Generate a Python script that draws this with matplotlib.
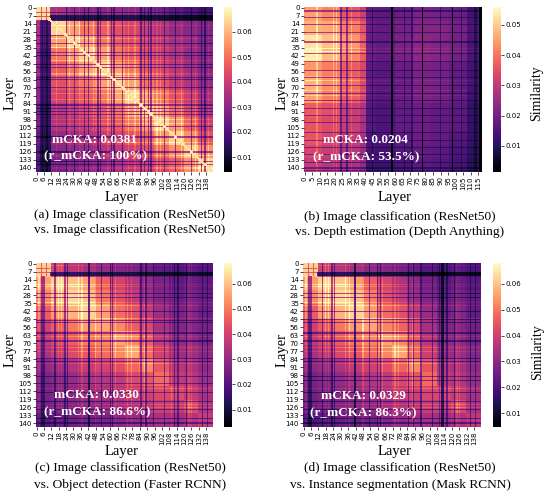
import numpy as np
import matplotlib
matplotlib.use("Agg")
import matplotlib.pyplot as plt
import seaborn as sns

# similarity per block of layers (rows = ResNet50 layers)
n_rows = 144
row_blocks = [12] * 12
col_blocks_std = [12] * 12
col_blocks_depth = [12, 12, 12, 5, 7, 12, 12, 12, 12, 12, 10]  # 118 layers

sim_a = [
    [0.064, 0.035, 0.032, 0.030, 0.030, 0.032, 0.030, 0.028, 0.025, 0.022, 0.020, 0.018],
    [0.034, 0.064, 0.057, 0.051, 0.047, 0.045, 0.042, 0.040, 0.036, 0.032, 0.030, 0.028],
    [0.033, 0.057, 0.064, 0.057, 0.051, 0.047, 0.044, 0.042, 0.038, 0.034, 0.032, 0.028],
    [0.031, 0.051, 0.057, 0.064, 0.057, 0.051, 0.047, 0.044, 0.040, 0.036, 0.032, 0.030],
    [0.031, 0.047, 0.051, 0.057, 0.064, 0.057, 0.051, 0.047, 0.042, 0.038, 0.034, 0.030],
    [0.030, 0.045, 0.047, 0.051, 0.057, 0.064, 0.057, 0.051, 0.046, 0.040, 0.036, 0.032],
    [0.029, 0.042, 0.044, 0.047, 0.051, 0.057, 0.064, 0.057, 0.051, 0.045, 0.040, 0.034],
    [0.027, 0.038, 0.040, 0.044, 0.047, 0.051, 0.057, 0.064, 0.057, 0.050, 0.044, 0.036],
    [0.026, 0.036, 0.038, 0.040, 0.044, 0.047, 0.051, 0.057, 0.064, 0.056, 0.048, 0.040],
    [0.024, 0.032, 0.034, 0.036, 0.040, 0.043, 0.046, 0.050, 0.056, 0.064, 0.055, 0.045],
    [0.022, 0.030, 0.031, 0.033, 0.036, 0.038, 0.041, 0.045, 0.049, 0.055, 0.064, 0.055],
    [0.020, 0.027, 0.028, 0.030, 0.032, 0.035, 0.037, 0.040, 0.043, 0.047, 0.055, 0.064],
]
dark_rows_a = [4, 11, 24, 31, 39, 42, 50, 52, 61, 63, 70, 85, 88, 91, 93, 104, 113, 126, 134, 137]
dark_cols_a = [3, 4, 6, 7, 10, 11, 24, 31, 39, 42, 50, 52, 61, 63, 70, 85, 88, 91, 93, 104, 113, 126, 134, 137]
black_rows_a = [7, 8, 9, 10]
black_cols_a = [5, 8, 9]
bright_a = [16, 27, 35, 46, 58, 75, 80, 98, 101, 118, 129, 140]
diag_a = 0.068
near_diag_a = 0.065

sim_b = [
    [0.045, 0.042, 0.036, 0.032, 0.018, 0.017, 0.019, 0.021, 0.020, 0.019, 0.014],
    [0.047, 0.046, 0.041, 0.036, 0.019, 0.018, 0.020, 0.022, 0.022, 0.020, 0.015],
    [0.053, 0.049, 0.044, 0.038, 0.019, 0.018, 0.021, 0.023, 0.022, 0.020, 0.015],
    [0.054, 0.048, 0.042, 0.037, 0.019, 0.018, 0.021, 0.023, 0.022, 0.020, 0.015],
    [0.044, 0.041, 0.037, 0.033, 0.017, 0.016, 0.019, 0.021, 0.020, 0.018, 0.014],
    [0.047, 0.043, 0.039, 0.034, 0.018, 0.017, 0.019, 0.021, 0.020, 0.018, 0.014],
    [0.045, 0.041, 0.037, 0.033, 0.017, 0.016, 0.019, 0.021, 0.020, 0.018, 0.013],
    [0.037, 0.035, 0.031, 0.028, 0.016, 0.015, 0.018, 0.019, 0.018, 0.017, 0.012],
    [0.036, 0.034, 0.031, 0.027, 0.016, 0.015, 0.018, 0.019, 0.018, 0.017, 0.012],
    [0.036, 0.033, 0.031, 0.027, 0.015, 0.015, 0.017, 0.019, 0.018, 0.016, 0.012],
    [0.033, 0.031, 0.029, 0.025, 0.014, 0.014, 0.016, 0.018, 0.017, 0.015, 0.011],
    [0.031, 0.029, 0.027, 0.024, 0.013, 0.013, 0.015, 0.017, 0.016, 0.014, 0.010],
]
dark_rows_b = [3, 9, 15, 22, 30, 40, 47, 55, 61, 68, 75, 81, 88, 94, 100, 109, 116, 122, 128, 135, 140, 142]
dark_cols_b = [24, 28, 45, 66, 71, 90, 104, 113, 114]
bright_rows_b = [36, 38, 64, 72, 77]
bright_cols_b = [8, 19, 21, 31, 36]
black_cols_b = [58, 78, 98, 116, 117]

sim_c = [
    [0.060, 0.040, 0.036, 0.033, 0.030, 0.028, 0.026, 0.024, 0.022, 0.020, 0.022, 0.020],
    [0.055, 0.062, 0.060, 0.055, 0.046, 0.040, 0.035, 0.030, 0.026, 0.022, 0.024, 0.022],
    [0.052, 0.060, 0.063, 0.060, 0.050, 0.044, 0.038, 0.032, 0.028, 0.024, 0.026, 0.024],
    [0.046, 0.055, 0.058, 0.062, 0.055, 0.048, 0.044, 0.038, 0.032, 0.026, 0.028, 0.024],
    [0.040, 0.046, 0.050, 0.055, 0.056, 0.052, 0.046, 0.042, 0.034, 0.028, 0.028, 0.026],
    [0.038, 0.042, 0.046, 0.050, 0.052, 0.056, 0.052, 0.046, 0.037, 0.030, 0.030, 0.027],
    [0.034, 0.038, 0.042, 0.045, 0.048, 0.052, 0.056, 0.048, 0.040, 0.032, 0.032, 0.029],
    [0.030, 0.032, 0.035, 0.038, 0.040, 0.043, 0.047, 0.052, 0.045, 0.036, 0.034, 0.030],
    [0.027, 0.029, 0.031, 0.034, 0.036, 0.038, 0.042, 0.045, 0.048, 0.038, 0.036, 0.032],
    [0.026, 0.028, 0.029, 0.031, 0.033, 0.035, 0.038, 0.040, 0.042, 0.042, 0.038, 0.034],
    [0.025, 0.027, 0.028, 0.029, 0.031, 0.033, 0.035, 0.037, 0.039, 0.038, 0.042, 0.035],
    [0.021, 0.023, 0.025, 0.026, 0.027, 0.029, 0.031, 0.033, 0.034, 0.033, 0.035, 0.038],
]
dark_rows_c = [26, 30, 42, 50, 52, 61, 68, 83, 86, 99, 105, 113, 121, 128, 136, 140]
dark_cols_c = [4, 5, 6, 15, 23, 25, 53, 60, 62, 85, 89, 95, 104, 112, 115, 122, 135, 139]
black_rows_c = [8, 9, 10]
black_cols_c = [42, 43]
bright_c = [2, 18, 20, 34, 37, 48, 64, 74, 77, 88, 110, 124, 126]

sim_d = [
    [0.060, 0.040, 0.036, 0.033, 0.030, 0.028, 0.026, 0.024, 0.022, 0.020, 0.022, 0.020],
    [0.055, 0.062, 0.060, 0.055, 0.046, 0.041, 0.035, 0.030, 0.026, 0.022, 0.024, 0.022],
    [0.052, 0.060, 0.063, 0.060, 0.051, 0.044, 0.038, 0.032, 0.028, 0.024, 0.026, 0.024],
    [0.046, 0.055, 0.058, 0.062, 0.055, 0.048, 0.044, 0.038, 0.032, 0.026, 0.028, 0.024],
    [0.040, 0.046, 0.050, 0.055, 0.056, 0.052, 0.047, 0.042, 0.034, 0.028, 0.028, 0.026],
    [0.038, 0.042, 0.046, 0.050, 0.052, 0.056, 0.052, 0.046, 0.037, 0.030, 0.030, 0.027],
    [0.034, 0.038, 0.042, 0.045, 0.048, 0.052, 0.056, 0.048, 0.040, 0.032, 0.032, 0.029],
    [0.030, 0.032, 0.035, 0.038, 0.040, 0.043, 0.047, 0.052, 0.045, 0.036, 0.034, 0.030],
    [0.027, 0.029, 0.031, 0.034, 0.036, 0.038, 0.042, 0.045, 0.048, 0.038, 0.036, 0.032],
    [0.026, 0.028, 0.029, 0.031, 0.033, 0.035, 0.038, 0.040, 0.042, 0.042, 0.038, 0.034],
    [0.025, 0.027, 0.028, 0.029, 0.031, 0.033, 0.035, 0.037, 0.039, 0.038, 0.042, 0.035],
    [0.021, 0.023, 0.025, 0.026, 0.027, 0.029, 0.031, 0.033, 0.034, 0.033, 0.035, 0.038],
]
dark_rows_d = [26, 30, 42, 49, 52, 61, 68, 83, 86, 99, 103, 113, 121, 128, 136, 140]
dark_cols_d = [4, 5, 6, 15, 23, 25, 53, 60, 62, 85, 89, 95, 104, 110, 116, 122, 135, 139]
black_rows_d = [8, 9, 10]
black_cols_d = [41, 42, 112, 113]
bright_d = [2, 18, 20, 34, 37, 48, 64, 74, 77, 88, 110, 124, 126]

# small bright checker in the top-left corner (layers 0-10) of a, c, d
corner_size = 11
corner_value = [0.066, None, 0.062, 0.062]
corner_lines = [4, 8]
corner_line_value = 0.045

vrange = [(0.004, 0.070), (0.0014, 0.0559), (0.0031, 0.0682), (0.0047, 0.068)]
cbar_ticks = [[0.01, 0.02, 0.03, 0.04, 0.05, 0.06],
              [0.01, 0.02, 0.03, 0.04, 0.05],
              [0.01, 0.02, 0.03, 0.04, 0.05, 0.06],
              [0.01, 0.02, 0.03, 0.04, 0.05, 0.06]]
mcka = ["mCKA: 0.0381", "mCKA: 0.0204", "mCKA: 0.0330", "mCKA: 0.0329"]
rmcka = ["(r_mCKA: 100%)", "(r_mCKA: 53.5%)", "(r_mCKA: 86.6%)", "(r_mCKA: 86.3%)"]
captions = [
    ("(a) Image classification (ResNet50)", "vs. Image classification (ResNet50)"),
    ("(b) Image classification (ResNet50)", "vs. Depth estimation (Depth Anything)"),
    ("(c) Image classification (ResNet50)", "vs. Object detection (Faster RCNN)"),
    ("(d) Image classification (ResNet50)", "vs. Instance segmentation (Mask RCNN)"),
]
xtick_step = [6, 5, 6, 6]


def build(blocks, col_counts, dark_r, dark_c, black_r, black_c, bright_r, bright_c):
    m = np.repeat(np.repeat(np.array(blocks), row_blocks, axis=0), col_counts, axis=1)
    m[dark_r, :] *= 0.6
    m[:, dark_c] *= 0.6
    m[black_r, :] *= 0.4
    m[:, black_c] *= 0.4
    m[bright_r, :] *= 1.15
    m[:, bright_c] *= 1.15
    return m


mat_a = build(sim_a, col_blocks_std, dark_rows_a, dark_cols_a, black_rows_a, black_cols_a,
              bright_a, bright_a)
idx = np.arange(n_rows)
mat_a[idx[:-1], idx[1:]] = near_diag_a
mat_a[idx[1:], idx[:-1]] = near_diag_a
mat_a[idx, idx] = diag_a
mat_b = build(sim_b, col_blocks_depth, dark_rows_b, dark_cols_b, [], [],
              bright_rows_b, bright_cols_b)
mat_b[:, black_cols_b] = 0.0016
mat_c = build(sim_c, col_blocks_std, dark_rows_c, dark_cols_c, black_rows_c, black_cols_c,
              bright_c, bright_c)
mat_d = build(sim_d, col_blocks_std, dark_rows_d, dark_cols_d, black_rows_d, black_cols_d,
              bright_d, bright_d)
mats = [mat_a, mat_b, mat_c, mat_d]

for i, m in enumerate(mats):
    if corner_value[i] is None:
        continue
    m[:corner_size, :corner_size] = corner_value[i]
    m[corner_lines, :corner_size] = corner_line_value
    m[:corner_size, corner_lines] = corner_line_value

serif = "Liberation Serif"
fig = plt.figure(figsize=(5.5, 4.97), dpi=100)
W, H = 550.0, 497.0

# pixel boxes: heatmap (x0, x1), colorbar (x0, x1), (y0, y1)
hm_x = [(36, 213), (304, 482), (36, 213), (303, 481)]
cb_x = [(224, 232), (493, 501), (224, 232), (493, 501)]
row_y = [(7, 172), (7, 172), (263, 427), (263, 427)]
ylab_pos = [(10, 93), (282, 93), (10, 350), (282, 350)]
xlab_pos = [(122, 197), (395, 197), (122, 452), (395, 452)]
cap_pos = [(130, 215, 230), (400, 217, 232), (130, 468, 485), (400, 468, 485)]
txt_pos = [(48, 116, 130), (41, 116, 131), (49.5, 116, 131), (49, 117, 132)]
sim_label = [(537, 93), None, None, (538, 352)]

for i in range(4):
    y0, y1 = row_y[i]
    ax = fig.add_axes([hm_x[i][0] / W, 1 - y1 / H, (hm_x[i][1] - hm_x[i][0]) / W, (y1 - y0) / H])
    cax = fig.add_axes([cb_x[i][0] / W, 1 - y1 / H, (cb_x[i][1] - cb_x[i][0]) / W, (y1 - y0) / H])
    m = mats[i]
    sns.heatmap(m, ax=ax, cbar_ax=cax, cmap="magma", vmin=vrange[i][0], vmax=vrange[i][1],
                xticklabels=False, yticklabels=False)
    nr, nc = m.shape
    ax.set_yticks(np.arange(0, nr, 7) + 0.5)
    ax.set_yticklabels([str(v) for v in range(0, nr, 7)], rotation=0, fontsize=5)
    ax.set_xticks(np.arange(0, nc, xtick_step[i]) + 0.5)
    ax.set_xticklabels([str(v) for v in range(0, nc, xtick_step[i])], rotation=90, fontsize=5)
    ax.tick_params(length=2, width=0.5, pad=1)
    cax.set_yticks(cbar_ticks[i])
    cax.set_yticklabels(["%.2f" % t for t in cbar_ticks[i]], fontsize=5)
    cax.tick_params(length=2.5, width=0.5, pad=1)

    tx, ty1, ty2 = txt_pos[i]
    ax.text(tx, ty1, mcka[i], color="white", fontsize=9.5, fontweight="bold",
            family=serif, ha="center", va="center")
    ax.text(tx, ty2, rmcka[i], color="white", fontsize=9.5, fontweight="bold",
            family=serif, ha="center", va="center")

    fig.text(ylab_pos[i][0] / W, 1 - ylab_pos[i][1] / H, "Layer", rotation=90,
             family=serif, fontsize=10.5, ha="center", va="center")
    fig.text(xlab_pos[i][0] / W, 1 - xlab_pos[i][1] / H, "Layer",
             family=serif, fontsize=10.5, ha="center", va="center")
    cx, c1, c2 = cap_pos[i]
    fig.text(cx / W, 1 - c1 / H, captions[i][0], family=serif, fontsize=9.6, ha="center", va="center")
    fig.text(cx / W, 1 - c2 / H, captions[i][1], family=serif, fontsize=9.6, ha="center", va="center")
    if sim_label[i]:
        fig.text(sim_label[i][0] / W, 1 - sim_label[i][1] / H, "Similarity", rotation=90,
                 family=serif, fontsize=10, ha="center", va="center")

fig.savefig("out.png", dpi=100)
